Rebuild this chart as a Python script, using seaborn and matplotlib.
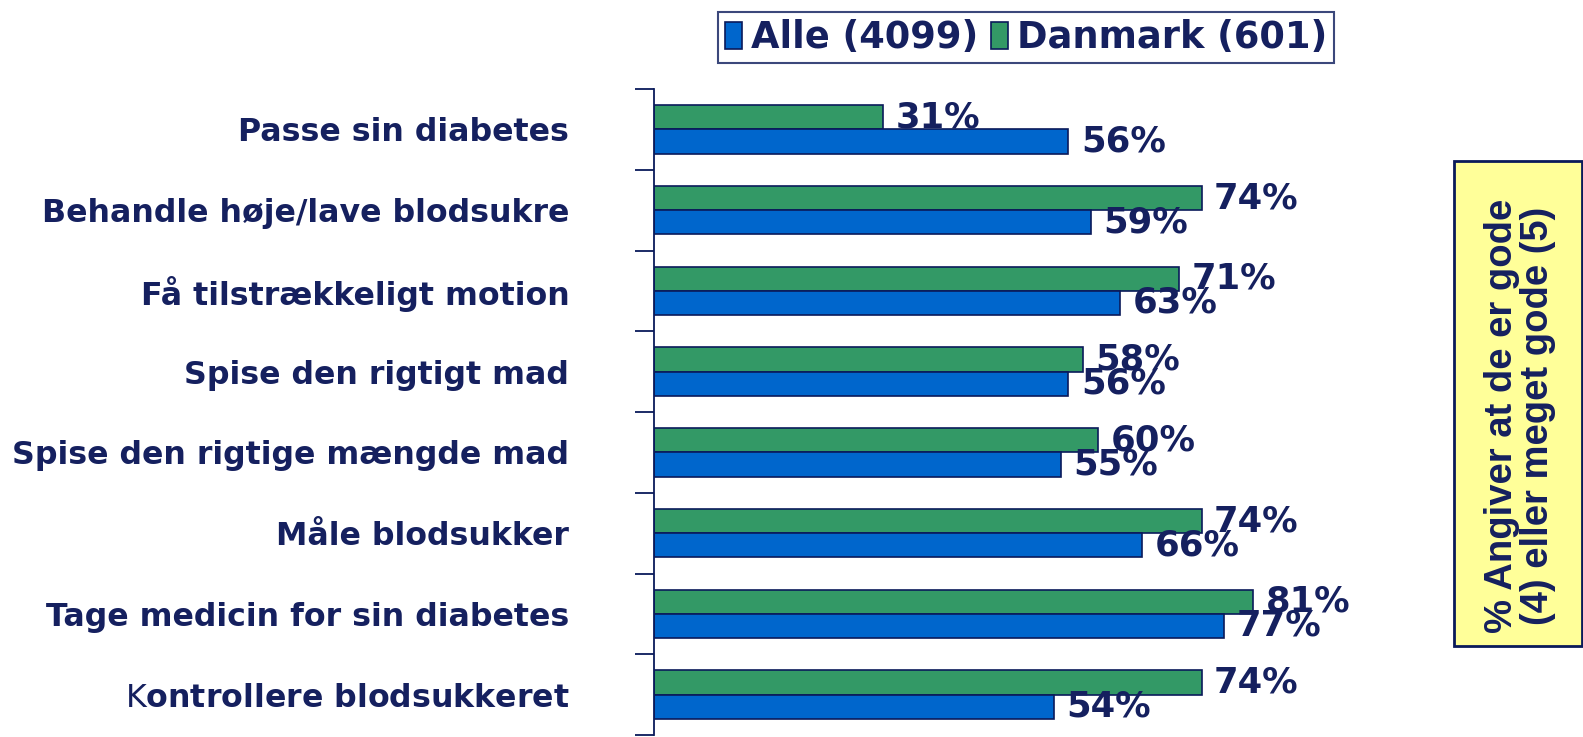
import matplotlib
matplotlib.use("Agg")
import matplotlib.pyplot as plt
import seaborn as sns
import pandas as pd
from matplotlib.patches import Patch, Rectangle

categories = ["Passe sin diabetes", "Behandle høje/lave blodsukre", "Få tilstrækkeligt motion",
              "Spise den rigtigt mad", "Spise den rigtige mængde mad", "Måle blodsukker",
              "Tage medicin for sin diabetes", "Kontrollere blodsukkeret"]
alle = [56, 59, 63, 56, 55, 66, 77, 54]
danmark = [31, 74, 71, 58, 60, 74, 81, 74]
series_names = ["Alle (4099)", "Danmark (601)"]
side_text = "% Angiver at de er gode\n(4) eller meget gode (5)"

NAVY = "#15205f"
EDGE = "#0a1a5a"
BLUE = "#0066CC"
GREEN = "#339966"

df = pd.DataFrame({
    "cat": categories * 2,
    "val": alle + danmark,
    "serie": [series_names[0]] * len(categories) + [series_names[1]] * len(categories),
})

sns.set_theme(style="white")
plt.rcParams["font.family"] = ["DejaVu Sans"]
plt.rcParams["mathtext.fontset"] = "dejavusans"

W, H = 1583, 737
fig = plt.figure(figsize=(W / 100, H / 100), dpi=100)
ax_left, ax_right = 654 / W, 1394 / W
ax_top, ax_bot = 1 - 89 / H, 1 - 735 / H
ax = fig.add_axes([ax_left, ax_bot, ax_right - ax_left, ax_top - ax_bot])

sns.barplot(data=df, y="cat", x="val", hue="serie", orient="h",
            hue_order=[series_names[1], series_names[0]],
            palette={series_names[0]: BLUE, series_names[1]: GREEN},
            saturation=1, width=0.6, edgecolor=EDGE, linewidth=1.2, ax=ax,
            legend=False)

ax.set_xlim(0, 100)
ax.set_ylim(len(categories) - 0.5, -0.5)
ax.set_xlabel("")
ax.set_ylabel("")
ax.set_xticks([])
for s in ["top", "right", "bottom"]:
    ax.spines[s].set_visible(False)
ax.spines["left"].set_color(EDGE)
ax.spines["left"].set_linewidth(1.3)

# the original shows the leading "K" of the last label in regular weight
shown = [c if not c.startswith("K") else r"$\mathrm{K}$" + c[1:] for c in categories]
ax.set_yticks(range(len(categories)))
ax.set_yticklabels(shown)
ax.set_yticks([i - 0.5 for i in range(len(categories) + 1)], minor=True)
ax.tick_params(axis="y", which="major", length=0, pad=61, labelsize=22.8,
               labelcolor=NAVY)
ax.tick_params(axis="y", which="minor", length=14, width=1.3, color=EDGE,
               direction="out", left=True)
for lbl in ax.get_yticklabels():
    lbl.set_fontweight("bold")

for cont in ax.containers:
    ax.bar_label(cont, labels=[f"{int(v)}%" for v in cont.datavalues],
                 padding=9, fontsize=25.5, fontweight="bold", color=NAVY)

handles = [Patch(facecolor=BLUE, edgecolor=EDGE, linewidth=1.2),
           Patch(facecolor=GREEN, edgecolor=EDGE, linewidth=1.2)]
leg = fig.legend(handles, series_names, loc="center",
                 bbox_to_anchor=(1026 / W, 1 - 37.5 / H), ncol=2,
                 prop={"size": 26.5, "weight": "bold"}, frameon=True,
                 fancybox=False, handlelength=0.45, handleheight=0.75,
                 handletextpad=0.25, columnspacing=0.35, borderpad=0.2,
                 borderaxespad=0)
leg.get_frame().set_edgecolor(EDGE)
leg.get_frame().set_linewidth(1.5)
for t in leg.get_texts():
    t.set_color(NAVY)

box_l, box_r, box_t, box_b = 1454, 1582, 161, 646
fig.patches.append(Rectangle((box_l / W, 1 - box_b / H), (box_r - box_l) / W,
                             (box_b - box_t) / H, transform=fig.transFigure,
                             facecolor="#FFFF99", edgecolor=EDGE, linewidth=2,
                             zorder=0))
fig.text(1520 / W, 1 - 416 / H, side_text, rotation=90, ha="center", va="center",
         fontsize=27.5, fontweight="bold", color=NAVY, family="Liberation Sans",
         linespacing=1.03, multialignment="center")

fig.savefig("out.png", dpi=100)
